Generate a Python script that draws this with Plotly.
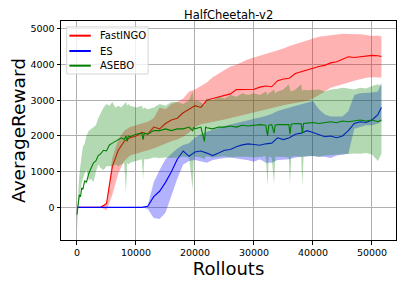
import plotly.graph_objects as go

# ---------------- data ----------------
X_COMMON = [0, 1000, 2000, 3000, 4000, 5000, 6000, 7000, 8000, 9000,
            10000, 11000, 12000, 13000, 14000, 15000, 16000, 17000, 18000, 19000,
            20000, 21000, 22000, 23000, 24000, 25000, 26000, 27000, 28000, 29000,
            30000, 31000, 32000, 33000, 34000, 35000, 36000, 37000, 38000, 39000,
            40000, 41000, 42000, 43000, 44000, 45000, 46000, 47000, 48000, 49000,
            50000, 51000, 51600]

fastingo_mean = [0, 0, 0, 0, 0, 100, 1150, 1600, 1850, 1950,
                 2000, 2100, 2050, 2250, 2200, 2350, 2450, 2500, 2650, 2750,
                 2850, 2800, 3000, 3050, 3100, 3150, 3180, 3300, 3300, 3290,
                 3310, 3370, 3400, 3380, 3550, 3600, 3620, 3750, 3800, 3870,
                 3900, 3950, 3980, 4050, 4080, 4150, 4220, 4200, 4220, 4240,
                 4260, 4250, 4230]
fastingo_low = [0, 0, 0, 0, 0, -80, 350, 950, 1300, 1450,
                1500, 1550, 1600, 1650, 1700, 1780, 1850, 1900, 1980, 2100,
                2250, 2330, 2370, 2400, 2430, 2460, 2490, 2520, 2560, 2600,
                2650, 2700, 2730, 2780, 2820, 2860, 2900, 2930, 2960, 2980,
                3050, 3150, 3250, 3350, 3380, 3450, 3500, 3550, 3600, 3630,
                3650, 3650, 3640]
fastingo_high = [0, 0, 0, 0, 0, 150, 1400, 1900, 2150, 2250,
                 2300, 2350, 2400, 2500, 2800, 2750, 2900, 2950, 3050, 3250,
                 3300, 3400, 3500, 3650, 3750, 3850, 3950, 4000, 4080, 4150,
                 4200, 4250, 4300, 4350, 4380, 4450, 4520, 4580, 4620, 4680,
                 4730, 4780, 4800, 4820, 4850, 4870, 4860, 4860, 4850, 4830,
                 4800, 4820, 4790]

es_mean = [0, 0, 0, 0, 0, 0, 0, 0, 0, 0,
           0, 0, 30, 300, 450, 700, 1000, 1350, 1580, 1430,
           1550, 1580, 1520, 1450, 1520, 1600, 1620, 1700, 1750, 1780,
           1760, 1740, 1780, 1800, 1950, 1900, 1950, 2050, 2080, 2150,
           2100, 2050, 1980, 2000, 1950, 2000, 2150, 2350, 2400, 2380,
           2450, 2600, 2800]
es_low = [0, 0, 0, 0, 0, 0, 0, 0, 0, 0,
          0, 0, -50, -300, -330, -150, 350, 800, 1200, 1300,
          1330, 1300, 1250, 1330, 1360, 1380, 1400, 1380, 1350, 1320,
          1280, 1350, 1250, 1250, 1330, 1330, 1350, 1400, 1420, 1430,
          1440, 1420, 1420, 1380, 1450, 1480, 1500, 2200, 2250, 2300,
          2300, 2350, 2400]
es_high = [0, 0, 0, 0, 0, 0, 0, 0, 0, 0,
           0, 0, 50, 700, 1050, 1350, 1500, 1650, 1750, 1800,
           1950, 2050, 2120, 2180, 2230, 2280, 2320, 2360, 2400, 2430,
           2460, 2500, 2560, 2620, 2700, 2750, 2800, 2850, 2900, 2950,
           2980, 2750, 2600, 2550, 2550, 2550, 2700, 3150, 3200, 3200,
           3220, 3250, 3500]

X_ASEBO = [0, 200, 400, 600, 800, 1000, 1300, 1600, 2000, 2400,
           2800, 3200, 3600, 4000, 4500, 5000, 5500, 6000, 6500, 7000,
           7500, 8000, 8300, 8500, 8700, 9000, 10000, 11000, 11200, 11400,
           12000, 13000, 14000, 15000, 16000, 17000, 18000, 19000, 19600, 19800,
           20000, 21000, 21600, 21800, 22000, 23000, 24000, 25000, 26000, 27000,
           28000, 29000, 30000, 31000, 32000, 32300, 32500, 33000, 33400, 33600,
           34000, 35000, 35900, 36100, 36300, 37000, 38000, 38200, 38400, 39000,
           40000, 41000, 42000, 43000, 44000, 45000, 46000, 47000, 48000, 49000,
           50000, 51000, 51600]
asebo_mean = [-200, 150, 350, 300, 550, 500, 750, 700, 950, 1100,
              1250, 1300, 1450, 1500, 1600, 1580, 1750, 1800, 1850, 1900,
              1950, 1900, 2000, 1850, 2000, 1980, 2050, 2080, 1900, 2080,
              2050, 2150, 2150, 2200, 2150, 2200, 2200, 2250, 2150, 2250,
              2200, 2250, 1850, 2250, 2230, 2200, 2250, 2250, 2280, 2250,
              2300, 2280, 2300, 2320, 2300, 2000, 2300, 2320, 2080, 2300,
              2320, 2330, 2320, 2050, 2330, 2350, 2340, 2080, 2350, 2360,
              2380, 2350, 2380, 2400, 2370, 2420, 2400, 2430, 2450, 2420,
              2450, 2400, 2450]
asebo_low = [-620, 0, 300, 500, 700, 800, 950, 1050, 750, 800,
             700, 1000, 1200, 1100, 1050, 1150, 1150, 1150, 1200, 1150,
             1200, 1250, 400, 1250, 1200, 1250, 1300, 1350, 780, 1350,
             1350, 1400, 1380, 1400, 1380, 1400, 1420, 1400, 500, 1400,
             1420, 1400, 1350, 1420, 1430, 1400, 1420, 1430, 1400, 1420,
             1430, 1420, 1400, 1420, 1430, 600, 1420, 1400, 650, 1420,
             1430, 1420, 1400, 600, 1420, 1430, 1420, 600, 1420, 1430,
             1440, 1420, 1450, 1460, 1470, 1480, 1500, 1510, 1500, 1520,
             1480, 1300, 1500]
asebo_high = [-150, 500, 900, 1200, 1500, 1700, 1800, 2000, 2150, 2200,
              2250, 2300, 2500, 2650, 2800, 2900, 2850, 2950, 2800, 2850,
              2800, 2900, 2950, 2850, 2900, 2850, 2800, 2850, 2750, 2800,
              2750, 2800, 2900, 2850, 2950, 2950, 2900, 3000, 3250, 2950,
              3000, 2950, 2850, 3000, 3050, 3000, 3100, 3050, 3150, 3100,
              3200, 3150, 3200, 3150, 3250, 3150, 3200, 3250, 3300, 3200,
              3250, 3300, 3450, 3300, 3250, 3300, 3450, 3250, 3300, 3280,
              3300, 3300, 3250, 3300, 3320, 3350, 3330, 3300, 3350, 3330,
              3400, 3450, 3400]

SERIES_NAMES = ["FastINGO", "ES", "ASEBO"]
X_TICKS = [0, 10000, 20000, 30000, 40000, 50000]
Y_TICKS = [0, 1000, 2000, 3000, 4000, 5000]

# ---------------- figure ----------------
series = [
    (SERIES_NAMES[0], X_COMMON, fastingo_mean, fastingo_low, fastingo_high,
     "#ff0000", "rgba(255,0,0,0.3)"),
    (SERIES_NAMES[1], X_COMMON, es_mean, es_low, es_high,
     "#0000ff", "rgba(0,0,255,0.3)"),
    (SERIES_NAMES[2], X_ASEBO, asebo_mean, asebo_low, asebo_high,
     "#008000", "rgba(0,128,0,0.3)"),
]

fig = go.Figure()
for name, xs, m, lo, hi, col, fcol in series:
    fig.add_trace(go.Scatter(x=xs, y=m, mode="lines", line=dict(color=col, width=1.1),
                             showlegend=False, hoverinfo="skip"))
    fig.add_trace(go.Scatter(x=list(xs) + list(xs)[::-1], y=list(hi) + list(lo)[::-1],
                             mode="lines", fill="toself", fillcolor=fcol,
                             line=dict(width=0, color=fcol), showlegend=False,
                             hoverinfo="skip"))

font_family = "DejaVu Sans"

# hand-drawn legend (matplotlib style)
shapes = [dict(type="rect", xref="paper", yref="paper", x0=0.017, x1=0.26, y0=0.758, y1=0.973,
               line=dict(color="#d6d6d6", width=1), fillcolor="rgba(255,255,255,0.8)",
               layer="above")]
annotations = []
leg_y = [0.933, 0.863, 0.796]
for (name, xs, m, lo, hi, col, fcol), ly in zip(series, leg_y):
    shapes.append(dict(type="line", xref="paper", yref="paper", x0=0.025, x1=0.089,
                       y0=ly, y1=ly, line=dict(color=col, width=2), layer="above"))
    annotations.append(dict(text=name, xref="paper", yref="paper", x=0.111, y=ly,
                            xanchor="left", yanchor="middle", showarrow=False,
                            font=dict(size=10, family=font_family, color="black")))
annotations.append(dict(text="HalfCheetah-v2", x=0.5, y=1, xref="paper", yref="paper",
                        xanchor="center", yanchor="bottom", yshift=-2, showarrow=False,
                        borderpad=0, font=dict(size=11.5, family=font_family)))

fig.update_layout(
    width=398, height=278,
    margin=dict(l=53, r=10, t=13, b=46, autoexpand=False),
    paper_bgcolor="white", plot_bgcolor="white",
    font=dict(family=font_family, color="black", size=10),
    showlegend=False,
    shapes=shapes,
    annotations=annotations,
)
fig.update_xaxes(range=[-2710, 54070], tickvals=X_TICKS, ticktext=[str(v) for v in X_TICKS],
                 showgrid=True, gridcolor="#b0b0b0", gridwidth=1, zeroline=False,
                 showline=True, linecolor="black", linewidth=1, mirror=True,
                 ticks="outside", ticklen=3.5, tickcolor="black", automargin=False,
                 tickfont=dict(size=9.5),
                 title=dict(text="Rollouts", font=dict(size=18), standoff=2))
fig.update_yaxes(range=[-916, 5224], tickvals=Y_TICKS, ticktext=[str(v) for v in Y_TICKS],
                 showgrid=True, gridcolor="#b0b0b0", gridwidth=1, zeroline=False,
                 showline=True, linecolor="black", linewidth=1, mirror=True,
                 ticks="outside", ticklen=3.5, tickcolor="black", automargin=False,
                 tickfont=dict(size=9.5),
                 title=dict(text="AverageReward", font=dict(size=18.5), standoff=8))

fig.write_html("out.html")
